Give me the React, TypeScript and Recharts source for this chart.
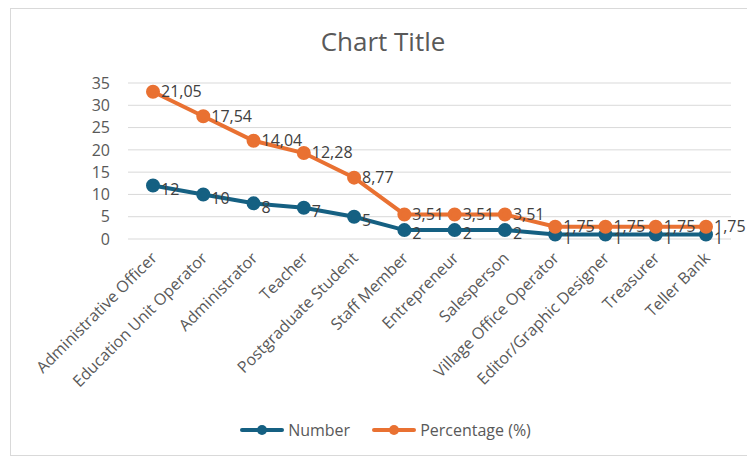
import { LineChart, Line, XAxis, YAxis, CartesianGrid, Legend, LabelList } from "recharts";

const categories = [
  "Administrative Officer",
  "Education Unit Operator",
  "Administrator",
  "Teacher",
  "Postgraduate Student",
  "Staff Member",
  "Entrepreneur",
  "Salesperson",
  "Village Office Operator",
  "Editor/Graphic Designer",
  "Treasurer",
  "Teller Bank",
];
const numbers = [12, 10, 8, 7, 5, 2, 2, 2, 1, 1, 1, 1];
const percentages = [21.05, 17.54, 14.04, 12.28, 8.77, 3.51, 3.51, 3.51, 1.75, 1.75, 1.75, 1.75];
const yTicks = [0, 5, 10, 15, 20, 25, 30, 35];

const BLUE = "#156082";
const ORANGE = "#E97132";
const FONT = "'Open Sans', sans-serif";

// stacked line: percentage series sits on top of number series
const data = categories.map((name, i) => ({
  name,
  number: numbers[i],
  percentage: percentages[i],
  stackedPct: numbers[i] + percentages[i],
}));

const fmt = (v: number) => String(v).replace(".", ",");

const XTick = ({ x, y, payload }: any) => (
  <text
    x={x + 5}
    y={y + 12}
    transform={`rotate(-45, ${x + 5}, ${y + 12})`}
    textAnchor="end"
    fontSize={16}
    fontFamily={FONT}
    fill="#595959"
  >
    {payload.value}
  </text>
);

const PointLabel = (dy: number) => (props: any) => {
  const { x, y, value } = props;
  return (
    <text x={x + 8} y={y + dy} fontSize={16} fontFamily={FONT} fill="#404040" dominantBaseline="middle">
      {fmt(value)}
    </text>
  );
};

const LegendContent = () => (
  <div style={{ display: "flex", justifyContent: "center", gap: 22, fontFamily: FONT, fontSize: 16, color: "#595959" }}>
    {[
      { label: "Number", color: BLUE },
      { label: "Percentage (%)", color: ORANGE },
    ].map((it) => (
      <div key={it.label} style={{ display: "flex", alignItems: "center", gap: 4 }}>
        <svg width={44} height={12}>
          <line x1={2} y1={6} x2={42} y2={6} stroke={it.color} strokeWidth={4} strokeLinecap="round" />
          <circle cx={22} cy={6} r={5} fill={it.color} />
        </svg>
        <span>{it.label}</span>
      </div>
    ))}
  </div>
);

export default function App() {
  return (
    <div style={{ position: "absolute", left: 0, top: 0, width: 747, height: 457, background: "#fff" }}>
      <div
        style={{
          position: "absolute",
          left: 10,
          top: 8,
          width: 760,
          height: 446,
          border: "1px solid #d9d9d9",
        }}
      />
      <div
        style={{
          position: "absolute",
          left: 0,
          width: 766,
          top: 23,
          textAlign: "center",
          fontFamily: FONT,
          fontSize: 26,
          color: "#595959",
        }}
      >
        Chart Title
      </div>
      <div style={{ position: "absolute", left: 0, top: 0 }}>
        <LineChart width={747} height={457} data={data} margin={{ top: 83, right: 16, bottom: 16, left: 88 }}>
          <CartesianGrid vertical={false} stroke="#d9d9d9" />
          <XAxis
            dataKey="name"
            interval={0}
            axisLine={false}
            tickLine={false}
            height={180}
            padding={{ left: 25, right: 25 }}
            tick={<XTick />}
          />
          <YAxis
            width={40}
            domain={[0, 35]}
            ticks={yTicks}
            interval={0}
            axisLine={false}
            tickLine={false}
            tickSize={0}
            tickMargin={18}
            tick={{ fontSize: 16, fontFamily: FONT, fill: "#595959" }}
          />
          <Legend
            verticalAlign="bottom"
            content={<LegendContent />}
            wrapperStyle={{ left: 0, width: 771 }}
          />
          <Line
            dataKey="number"
            name="Number"
            stroke={BLUE}
            strokeWidth={4}
            dot={{ r: 5, fill: BLUE, stroke: BLUE }}
            isAnimationActive={false}
          >
            <LabelList dataKey="number" content={PointLabel(5)} />
          </Line>
          <Line
            dataKey="stackedPct"
            name="Percentage (%)"
            stroke={ORANGE}
            strokeWidth={4}
            dot={{ r: 5, fill: ORANGE, stroke: ORANGE }}
            isAnimationActive={false}
          >
            <LabelList dataKey="percentage" content={PointLabel(1)} />
          </Line>
        </LineChart>
      </div>
    </div>
  );
}
